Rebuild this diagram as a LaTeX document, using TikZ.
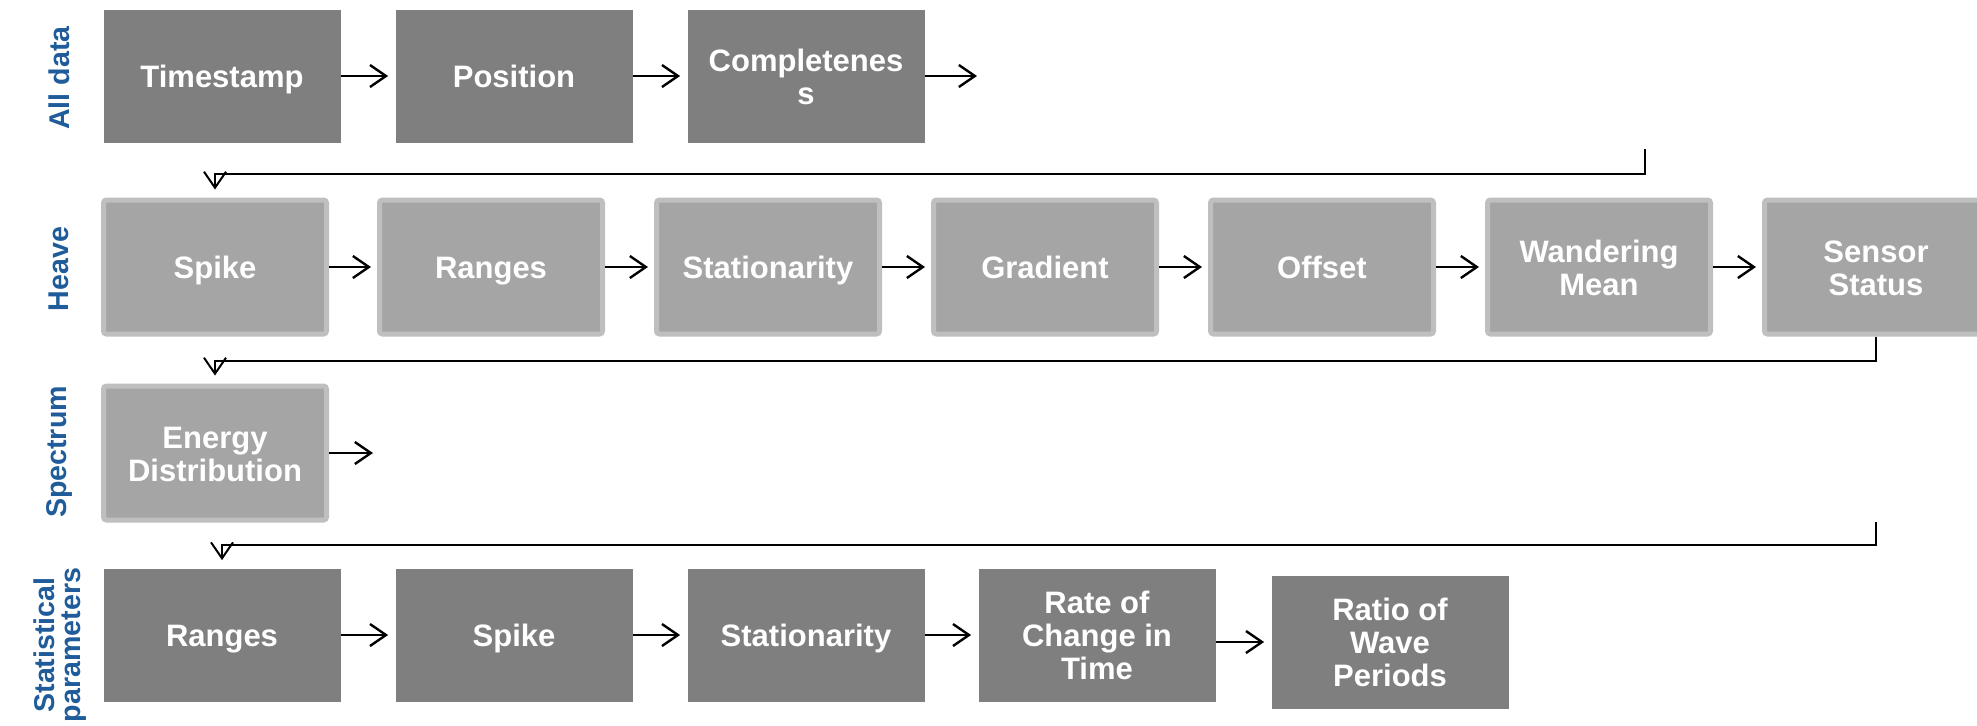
\documentclass[tikz,border=0pt]{standalone}
\usepackage{fontspec}
\setmainfont{Liberation Sans}
\usepackage{tikz}
\usetikzlibrary{arrows.meta}
\definecolor{boxdark}{HTML}{7F7F7F}
\definecolor{boxlight}{HTML}{A5A5A5}
\definecolor{boxrim}{HTML}{BFBFBF}
\definecolor{rowblue}{HTML}{1F5C99}
\newcommand{\boxstrut}{\rule[-3.4pt]{0pt}{17.9pt}}
\newcommand{\tallstrut}{\rule{0pt}{15pt}}
\tikzstyle{darkbox}=[rectangle,fill=boxdark,text=white,font=\fontsize{15.5}{16.5}\selectfont\bfseries,align=center,minimum width=118.5pt,minimum height=66.5pt,inner sep=0pt,execute at begin node=\boxstrut,execute at end node=\boxstrut]
\tikzstyle{lightbox}=[rectangle,rounded corners=1.5pt,fill=boxlight,draw=boxrim,line width=2.5pt,text=white,font=\fontsize{15.5}{16.5}\selectfont\bfseries,align=center,minimum width=111.5pt,minimum height=67pt,inner sep=0pt,execute at begin node=\boxstrut,execute at end node=\boxstrut]
\tikzstyle{rowlabel}=[rotate=90,text=rowblue,font=\fontsize{14.3}{12.8}\selectfont\bfseries,align=center,inner sep=0pt]
\tikzstyle{edge}=[draw,line width=1.2pt,-{Straight Barb[length=8pt,width=11pt]}]

\begin{document}
\begin{tikzpicture}[x=0.5pt,y=-0.5pt]
    \useasboundingbox (0,0) rectangle (1977,725);
    % Row labels on the left
    \node[rowlabel] (L_1) at (59,78) {All data};
    \node[rowlabel] (L_2) at (59,269) {Heave};
    \node[rowlabel] (L_3) at (59,452) {Spectrum};
    \node[rowlabel] (L_4) at (60,645) {Statistical\\parameters};

    % First the boxes of each row
    \foreach \pos/\name/\txt/\lead in {{(222,76)/A_1/Timestamp/\relax}, {(514,76)/A_2/Position/\relax}, {(806,76)/A_3/Completenes\\s/\tallstrut}}
        \node[darkbox] (\name) at \pos {\lead\txt};
    \foreach \pos/\name/\txt/\lead in {{(215,267)/H_1/Spike/\relax}, {(491,267)/H_2/Ranges/\relax}, {(768,267)/H_3/Stationarity/\relax}, {(1045,267)/H_4/Gradient/\relax}, {(1322,267)/H_5/Offset/\relax}, {(1599,267)/H_6/Wandering\\Mean/\tallstrut}, {(1876,267)/H_7/Sensor\\Status/\tallstrut}}
        \node[lightbox] (\name) at \pos {\lead\txt};
    \node[lightbox] (S_1) at (215,453) {\tallstrut Energy\\Distribution};
    \foreach \pos/\name/\txt/\lead in {{(222,635)/P_1/Ranges/\relax}, {(514,635)/P_2/Spike/\relax}, {(806,635)/P_3/Stationarity/\relax}, {(1097,635)/P_4/Rate of\\Change in\\Time/\tallstrut}, {(1390,642)/P_5/Ratio of\\Wave\\Periods/\tallstrut}}
        \node[darkbox] (\name) at \pos {\lead\txt};

    % Loose ends and corners of the return lines
    \coordinate (e_1) at (977,76);
    \coordinate (e_2) at (373,453);
    \coordinate (c_1) at (1645,149);
    \coordinate (k_1) at (1645,174);
    \coordinate (k_2) at (1876,361);
    \coordinate (c_3) at (1876,522);
    \coordinate (k_3) at (1876,545);

    % Arrows inside the rows
    \foreach \source/ \dest in {A_1/A_2, A_2/A_3, P_1/P_2, P_2/P_3, P_3/P_4}
        \path[edge,shorten >=3.5pt] (\source) -- (\dest);
    \path[edge] (A_3) -- (e_1);
    \foreach \source/ \dest in {H_1/H_2, H_2/H_3, H_3/H_4, H_4/H_5, H_5/H_6, H_6/H_7}
        \path[edge,shorten >=3pt] (\source) -- (\dest);
    \path[edge] (S_1) -- (e_2);
    \path[edge,shorten >=3.5pt] (P_4.east |- P_5.west) -- (P_5.west);

    % Return lines between the rows
    \path[edge,line width=1pt,shorten >=4pt] (c_1) -- (k_1) -| (H_1.north);
    \path[edge,line width=1pt,shorten >=4pt] (H_7.south) -- (k_2) -| (S_1.north);
    \path[edge,line width=1pt,shorten >=4pt] (c_3) -- (k_3) -| (P_1.north);
\end{tikzpicture}
\end{document}
